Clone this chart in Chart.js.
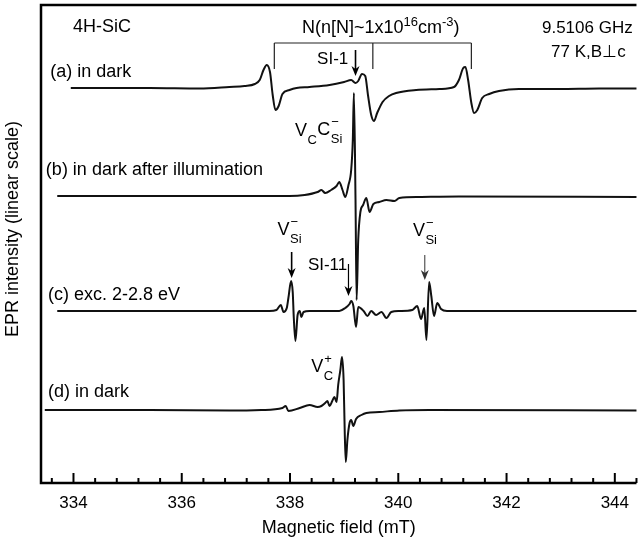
<!DOCTYPE html>
<html>
<head>
<meta charset="utf-8">
<script src="https://cdn.jsdelivr.net/npm/chart.js@4"></script>
<style>
html,body{margin:0;padding:0;background:#fff;}
#wrap{width:639px;height:543px;position:relative;}
</style>
</head>
<body>
<div id="wrap"><canvas id="c" width="639" height="543"></canvas></div>
<script>
// ---- data (magnetic field in mT, relative EPR intensity in arbitrary units) ----
const traceLabels = ['(a) in dark', '(b) in dark after illumination', '(c) exc. 2-2.8 eV', '(d) in dark'];
const traceOffsets = [395, 287, 172, 73];

const fieldA = [333.95,335.41,336.33,336.88,337.16,337.35,337.44,337.51,337.57,337.63,337.68,337.73,337.79,337.86,337.99,338.12,338.36,338.73,339.00,339.13,339.21,339.26,339.33,339.39,339.44,339.50,339.55,339.61,339.71,339.83,339.96,340.33,340.76,341.03,341.12,341.20,341.24,341.29,341.35,341.40,341.46,341.55,341.68,341.86,342.23,342.97,343.71,344.42];
const intenA = [0,0,-0.5,1,2,4,8,18,23,16,-7,-22,-18,-6,-2,0,1,3,6,8,5,7,14,12,-7,-27,-33,-25,-14,-8,-5,-2,-1,1,8,20,21,8,-15,-25,-22,-10,-6,-3,-1,-1,-0.5,-0.5];

const fieldB = [333.70,335.41,337.25,337.99,338.27,338.51,338.58,338.65,338.76,338.86,338.91,338.97,339.02,339.08,339.13,339.16,339.18,339.21,339.23,339.26,339.30,339.35,339.41,339.47,339.54,339.65,339.78,339.93,340.02,340.39,341.12,344.42];
const intenB = [0,0,0,0,1,4,6,3,6,10,14,6,-1,11,26,56,103,-4,-104,-44,-16,-9,-2,-16,-8,-6,-4,-5,-2,-1,-0.5,-1];

const fieldC = [333.70,336.33,337.62,337.75,337.83,337.88,337.94,337.97,338.02,338.05,338.07,338.10,338.14,338.18,338.21,338.25,338.36,338.91,339.02,339.10,339.13,339.17,339.22,339.26,339.36,339.43,339.50,339.59,339.69,339.78,339.87,340.02,340.26,340.35,340.42,340.48,340.52,340.57,340.61,340.66,340.72,340.79,340.90,344.42];
const intenC = [0,0,0,1,6,-1,3,13,30,19,-7,-30,-4,0,-6,-1,0,0,3,7,10,5,-16,4,0,-5,0,-4,-1,-7,-1,0,1,5,-8,3,-29,29,15,-5,8,2,0,0];

const fieldD = [333.47,335.41,336.88,337.47,337.86,337.92,337.97,338.18,338.36,338.51,338.58,338.65,338.69,338.73,338.78,338.82,338.86,338.89,338.93,338.96,338.99,339.01,339.03,339.06,339.10,339.13,339.17,339.22,339.32,339.41,339.65,340.02,340.57,344.42];
const intenD = [0,0,-0.5,0,2,4,-1,2,5,3,4,7,9,4,9,13,8,25,40,53,30,-20,-52,-30,-13,-10,-16,-9,-5,-3,-2,-0.5,0,-0.5];

const xMajorTicks = [334, 336, 338, 340, 342, 344];
const xMinorStep = 0.4;
const xTitle = 'Magnetic field (mT)';
const yTitle = 'EPR intensity (linear scale)';

const fields = [fieldA, fieldB, fieldC, fieldD];
const intens = [intenA, intenB, intenC, intenD];

const FONT = '"Liberation Sans", Arial, Helvetica, sans-serif';

const datasets = fields.map((f, i) => ({
  label: traceLabels[i],
  data: f.map((x, j) => ({x: x, y: intens[i][j] + traceOffsets[i]})),
  borderColor: '#111',
  borderWidth: 2,
  pointRadius: 0,
  fill: false,
  cubicInterpolationMode: 'monotone'
}));

// annotation definitions in data coordinates (field, axis units)
const labelTexts = [
  {t: '4H-SiC', x: 333.99, y: 456, align: 'left', s: 18},
  {t: '9.5106 GHz', x: 344.33, y: 455, align: 'right', s: 17},
  {t: '77 K,B\u22A5c', x: 344.20, y: 431, align: 'right', s: 17},
  {t: 'SI-1', x: 338.50, y: 424, align: 'left', s: 17},
  {t: 'SI-11', x: 338.33, y: 218, align: 'left', s: 17},
  {t: traceLabels[0], x: 333.57, y: 411, align: 'left', s: 18},
  {t: traceLabels[1], x: 333.49, y: 313, align: 'left', s: 18},
  {t: traceLabels[2], x: 333.53, y: 188, align: 'left', s: 18},
  {t: traceLabels[3], x: 333.53, y: 91, align: 'left', s: 18}
];
const arrows = [
  {x: 339.21, y1: 433, y2: 407, w: 1.6, c: '#000'},
  {x: 338.03, y1: 231, y2: 205, w: 1.6, c: '#000'},
  {x: 340.49, y1: 228, y2: 203, w: 1.0, c: '#333'},
  {x: 339.08, y1: 219, y2: 187, w: 1.2, c: '#000'}
];
const bracket = {y: 440, yEnd: 414, xs: [337.71, 339.53, 341.35]};

const annotPlugin = {
  id: 'annot',
  afterDraw(chart) {
    const ctx = chart.ctx, xs = chart.scales.x, ys = chart.scales.y, ca = chart.chartArea;
    const X = v => xs.getPixelForValue(v), Y = v => ys.getPixelForValue(v);
    ctx.save();
    // frame (left, top, bottom)
    ctx.strokeStyle = '#000';
    ctx.lineWidth = 2.5;
    ctx.beginPath();
    ctx.moveTo(ca.right, ca.top); ctx.lineTo(ca.left, ca.top);
    ctx.lineTo(ca.left, ca.bottom); ctx.lineTo(ca.right, ca.bottom);
    ctx.stroke();
    // inward ticks
    ctx.lineWidth = 2;
    for (let k = 0; ; k++) {
      const v = 333.6 + k * xMinorStep;
      if (v > xs.max + 1e-6) break;
      const major = xMajorTicks.some(m => Math.abs(m - v) < 1e-6);
      const px = X(v);
      ctx.beginPath();
      ctx.moveTo(px, ca.bottom);
      ctx.lineTo(px, ca.bottom - (major ? 10 : 5));
      ctx.stroke();
    }
    // y title
    ctx.fillStyle = '#000';
    ctx.font = '18px ' + FONT;
    ctx.textAlign = 'center';
    ctx.textBaseline = 'middle';
    ctx.translate(13, 229);
    ctx.rotate(-Math.PI / 2);
    ctx.fillText(yTitle, 0, 0);
    ctx.restore();

    ctx.save();
    ctx.fillStyle = '#000';
    ctx.textBaseline = 'middle';
    // plain texts
    labelTexts.forEach(l => {
      ctx.font = l.s + 'px ' + FONT;
      ctx.textAlign = l.align;
      ctx.fillText(l.t, X(l.x), Y(l.y));
    });
    // N label with superscripts
    ctx.textAlign = 'left';
    let px = X(338.22), py = Y(455);
    const parts = [['N(n[N]~1x10', 0], ['16', 1], ['cm', 0], ['-3', 1], [')', 0]];
    parts.forEach(p => {
      ctx.font = (p[1] ? '13px ' : '18px ') + FONT;
      ctx.fillText(p[0], px, py - (p[1] ? 6 : 0));
      px += ctx.measureText(p[0]).width;
    });
    // sub/superscript labels
    function ss(x, y, base, sub, sup) {
      ctx.font = '18px ' + FONT;
      ctx.fillText(base, x, y);
      const w = ctx.measureText(base).width;
      ctx.font = '13px ' + FONT;
      let w2 = 0;
      if (sub) { ctx.fillText(sub, x + w + 0.5, y + 9); w2 = ctx.measureText(sub).width; }
      if (sup) { ctx.fillText(sup, x + w + 1, y - 8); w2 = Math.max(w2, ctx.measureText(sup).width); }
      return x + w + w2 + 1;
    }
    let nx = ss(X(338.09), Y(352), 'V', 'C', '');
    ss(nx, Y(353), 'C', 'Si', '\u2212');
    ss(X(337.77), Y(253), 'V', 'Si', '\u2212');
    ss(X(340.27), Y(252), 'V', 'Si', '\u2212');
    ss(X(338.39), Y(116), 'V', 'C', '+');
    // bracket
    ctx.strokeStyle = '#222';
    ctx.lineWidth = 1.2;
    ctx.beginPath();
    ctx.moveTo(X(bracket.xs[0]), Y(bracket.y));
    ctx.lineTo(X(bracket.xs[2]), Y(bracket.y));
    bracket.xs.forEach(b => { ctx.moveTo(X(b), Y(bracket.y)); ctx.lineTo(X(b), Y(bracket.yEnd)); });
    ctx.stroke();
    // arrows
    arrows.forEach(a => {
      const ax = X(a.x), y1 = Y(a.y1), y2 = Y(a.y2);
      ctx.strokeStyle = a.c; ctx.fillStyle = a.c;
      ctx.lineWidth = a.w;
      ctx.beginPath(); ctx.moveTo(ax, y1); ctx.lineTo(ax, y2 - 6); ctx.stroke();
      ctx.beginPath();
      ctx.moveTo(ax, y2); ctx.lineTo(ax - 4, y2 - 10); ctx.lineTo(ax, y2 - 7); ctx.lineTo(ax + 4, y2 - 10);
      ctx.closePath(); ctx.fill();
    });
    ctx.restore();
  }
};

new Chart(document.getElementById('c'), {
  type: 'line',
  data: {datasets: datasets},
  plugins: [annotPlugin],
  options: {
    responsive: false,
    animation: false,
    layout: {padding: {top: 5, right: 0, left: 0, bottom: 0}},
    plugins: {legend: {display: false}, tooltip: {enabled: false}},
    scales: {
      x: {
        type: 'linear',
        min: 333.4, max: 344.4,
        grid: {display: false, drawTicks: false},
        border: {display: false},
        afterBuildTicks: s => { s.ticks = xMajorTicks.map(v => ({value: v})); },
        afterFit: s => { s.height = 60; },
        ticks: {
          color: '#000', padding: 10,
          font: {family: FONT, size: 17},
          maxRotation: 0, autoSkip: false,
          callback: v => String(v)
        },
        title: {display: true, text: xTitle, color: '#000', font: {family: FONT, size: 18}, padding: {top: 0, bottom: 4}}
      },
      y: {
        type: 'linear',
        min: 0, max: 478,
        grid: {display: false, drawTicks: false},
        border: {display: false},
        ticks: {display: false},
        afterFit: s => { s.width = 41; }
      }
    }
  }
});
</script>
</body>
</html>
